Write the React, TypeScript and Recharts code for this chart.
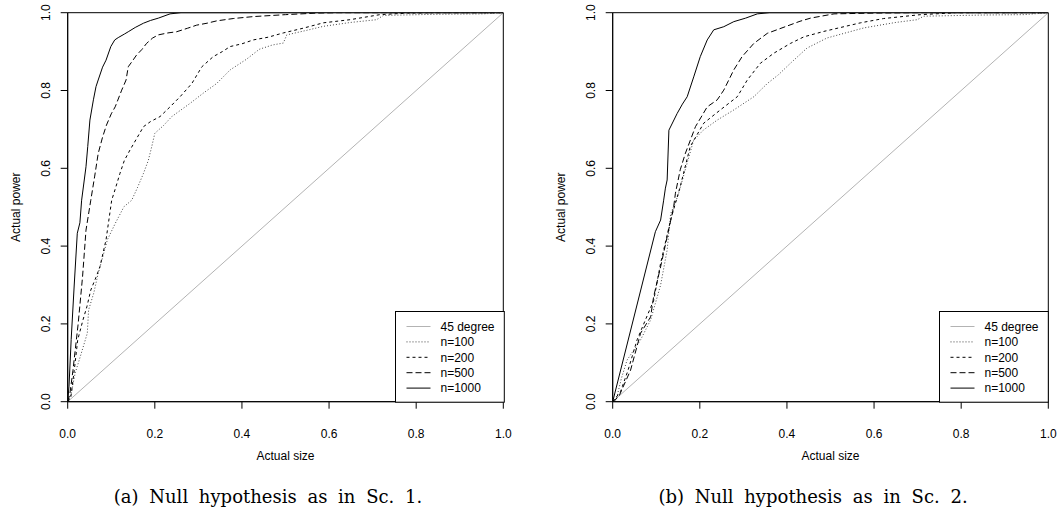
import { LineChart, Line, XAxis, YAxis, ReferenceArea } from 'recharts';

// [actual size, actual power] pairs
const DIAG = [[0, 0], [1, 1]];

const SC1_N100 = [
  [0, 0], [0.008, 0.02], [0.017, 0.073], [0.03, 0.12], [0.045, 0.176], [0.048, 0.236], [0.06, 0.28],
  [0.07, 0.33], [0.08, 0.37], [0.091, 0.416], [0.109, 0.458], [0.129, 0.501], [0.147, 0.518], [0.16, 0.55],
  [0.174, 0.587], [0.185, 0.62], [0.193, 0.656], [0.2, 0.69], [0.22, 0.71], [0.239, 0.733], [0.26, 0.75],
  [0.281, 0.767], [0.311, 0.793], [0.342, 0.818], [0.373, 0.853], [0.41, 0.88], [0.44, 0.906], [0.47, 0.917],
  [0.495, 0.922], [0.503, 0.943], [0.55, 0.955], [0.587, 0.965], [0.65, 0.975], [0.709, 0.982], [0.725, 0.993],
  [0.85, 0.996], [0.954, 0.997], [1, 1],
];
const SC1_N200 = [
  [0, 0], [0.007, 0.01], [0.015, 0.08], [0.023, 0.159], [0.035, 0.21], [0.044, 0.244], [0.053, 0.287],
  [0.065, 0.32], [0.074, 0.347], [0.088, 0.416], [0.101, 0.518], [0.11, 0.55], [0.12, 0.587], [0.13, 0.62],
  [0.143, 0.647], [0.16, 0.68], [0.174, 0.707], [0.19, 0.72], [0.212, 0.733], [0.235, 0.758], [0.258, 0.784],
  [0.285, 0.818], [0.308, 0.861], [0.334, 0.887], [0.355, 0.9], [0.373, 0.913], [0.4, 0.92], [0.426, 0.93],
  [0.46, 0.937], [0.495, 0.948], [0.54, 0.96], [0.587, 0.974], [0.648, 0.982], [0.717, 0.995], [0.78, 0.999],
  [0.85, 1], [1, 1],
];
const SC1_N500 = [
  [0, 0], [0.005, 0.02], [0.012, 0.08], [0.024, 0.2], [0.034, 0.32], [0.042, 0.441], [0.053, 0.518],
  [0.062, 0.58], [0.07, 0.638], [0.08, 0.68], [0.089, 0.711], [0.1, 0.74], [0.109, 0.758], [0.124, 0.801],
  [0.134, 0.827], [0.139, 0.861], [0.148, 0.875], [0.158, 0.891], [0.17, 0.905], [0.181, 0.921], [0.195, 0.935],
  [0.208, 0.943], [0.23, 0.948], [0.25, 0.951], [0.275, 0.96], [0.296, 0.968], [0.32, 0.973], [0.342, 0.979],
  [0.38, 0.985], [0.426, 0.99], [0.5, 0.995], [0.572, 0.999], [0.62, 1], [1, 1],
];
const SC1_N1000 = [
  [0, 0], [0.003, 0.04], [0.008, 0.16], [0.015, 0.3], [0.022, 0.433], [0.028, 0.46], [0.032, 0.518],
  [0.042, 0.604], [0.046, 0.656], [0.051, 0.724], [0.059, 0.776], [0.065, 0.81], [0.07, 0.827], [0.08, 0.86],
  [0.088, 0.878], [0.099, 0.913], [0.108, 0.93], [0.116, 0.936], [0.13, 0.945], [0.139, 0.951], [0.155, 0.962],
  [0.174, 0.973], [0.19, 0.98], [0.208, 0.986], [0.235, 0.997], [0.26, 1], [1, 1],
];

const SC2_N100 = [
  [0, 0], [0.008, 0.005], [0.02, 0.06], [0.033, 0.107], [0.064, 0.159], [0.087, 0.21], [0.11, 0.3],
  [0.125, 0.39], [0.133, 0.483], [0.15, 0.53], [0.17, 0.61], [0.186, 0.673], [0.209, 0.699], [0.24, 0.724],
  [0.278, 0.75], [0.324, 0.784], [0.355, 0.818], [0.38, 0.84], [0.408, 0.87], [0.446, 0.909], [0.492, 0.935],
  [0.577, 0.961], [0.65, 0.975], [0.699, 0.982], [0.714, 0.991], [0.85, 0.994], [0.944, 0.995], [1, 1],
];
const SC2_N200 = [
  [0, 0], [0.018, 0.026], [0.035, 0.08], [0.056, 0.159], [0.075, 0.21], [0.094, 0.26], [0.11, 0.356],
  [0.133, 0.467], [0.155, 0.553], [0.178, 0.656], [0.209, 0.716], [0.247, 0.75], [0.286, 0.784], [0.309, 0.827],
  [0.339, 0.87], [0.37, 0.896], [0.408, 0.921], [0.439, 0.938], [0.485, 0.952], [0.569, 0.974], [0.622, 0.985],
  [0.707, 0.995], [0.79, 1], [1, 1],
];
const SC2_N500 = [
  [0, 0], [0.014, 0.013], [0.041, 0.081], [0.064, 0.176], [0.087, 0.218], [0.094, 0.27], [0.11, 0.347],
  [0.125, 0.424], [0.14, 0.501], [0.144, 0.536], [0.155, 0.596], [0.167, 0.639], [0.19, 0.707], [0.217, 0.758],
  [0.24, 0.776], [0.255, 0.801], [0.278, 0.853], [0.297, 0.887], [0.324, 0.921], [0.355, 0.947], [0.401, 0.966],
  [0.43, 0.978], [0.454, 0.986], [0.508, 0.997], [0.6, 0.999], [0.7, 1], [1, 1],
];
const SC2_N1000 = [
  [0, 0], [0.098, 0.437], [0.11, 0.467], [0.117, 0.518], [0.121, 0.549], [0.125, 0.57], [0.129, 0.698],
  [0.148, 0.741], [0.16, 0.765], [0.171, 0.784], [0.186, 0.835], [0.201, 0.887], [0.217, 0.93], [0.232, 0.956],
  [0.255, 0.964], [0.278, 0.977], [0.305, 0.986], [0.332, 0.997], [0.36, 1], [1, 1],
];

const TICKS = [0, 0.2, 0.4, 0.6, 0.8, 1];
const LEGEND_LABELS = ['45 degree', 'n=100', 'n=200', 'n=500', 'n=1000'];

const STYLES = [
  { stroke: '#b3b3b3', dash: undefined },
  { stroke: '#444', dash: '1 2' },
  { stroke: '#000', dash: '3 3' },
  { stroke: '#000', dash: '6 3' },
  { stroke: '#000', dash: undefined },
];

const W = 530;
const H = 440;
const PL = 67.7, PR = 503.3, PT = 12.7, PB = 401.7;
const FONT = '"Liberation Sans", Arial, sans-serif';
const SERIF = '"DejaVu Serif", "Liberation Serif", serif';

const toPts = (arr: number[][]) => arr.map(([x, y]) => ({ x, y }));

function XTick({ x, payload }: any) {
  return (
    <text x={x} y={437.5} textAnchor="middle" fontSize={12} fontFamily={FONT} fill="#000">
      {Number(payload.value).toFixed(1)}
    </text>
  );
}

function YTick({ y, payload }: any) {
  const tx = 50;
  return (
    <text x={tx} y={y} transform={`rotate(-90, ${tx}, ${y})`} textAnchor="middle" fontSize={12} fontFamily={FONT} fill="#000">
      {Number(payload.value).toFixed(1)}
    </text>
  );
}

function LegendBox() {
  return (
    <svg width={110} height={92} style={{ position: 'absolute', left: 394.5, top: 310.5 }}>
      <rect x={0.5} y={0.5} width={108.8} height={90.7} fill="#fff" stroke="#000" />
      {LEGEND_LABELS.map((lab, i) => {
        const yy = 15.5 + i * 15.4;
        return (
          <g key={lab}>
            <line x1={11.5} x2={35.5} y1={yy} y2={yy} stroke={STYLES[i].stroke} strokeDasharray={STYLES[i].dash} />
            <text x={45.5} y={yy + 4.3} fontSize={12} fontFamily={FONT} fill="#000">{lab}</text>
          </g>
        );
      })}
    </svg>
  );
}

function Panel({ left, series, caption }: { left: number; series: number[][][]; caption: string }) {
  return (
    <div style={{ position: 'absolute', left, top: 0, width: W, height: 515 }}>
      <LineChart width={W} height={H} margin={{ top: PT, right: W - PR, bottom: H - PB - 30, left: 0 }}>
        <XAxis type="number" dataKey="x" domain={[0, 1]} ticks={TICKS} allowDataOverflow height={30}
          tickSize={7} tickLine={{ stroke: '#000' }} axisLine={{ stroke: '#000' }} tick={<XTick />} />
        <YAxis type="number" dataKey="y" domain={[0, 1]} ticks={TICKS} allowDataOverflow width={PL}
          tickSize={7} tickLine={{ stroke: '#000' }} axisLine={{ stroke: '#000' }} tick={<YTick />} />
        <ReferenceArea x1={0} x2={1} y1={0} y2={1} fill="none" fillOpacity={0} stroke="#000" strokeWidth={1} ifOverflow="visible" />
        <Line data={toPts(DIAG)} dataKey="y" type="linear" dot={false} stroke={STYLES[0].stroke} strokeWidth={1} isAnimationActive={false} />
        {series.map((s, i) => (
          <Line key={i} data={toPts(s)} dataKey="y" type="linear" dot={false} stroke={STYLES[i + 1].stroke}
            strokeDasharray={STYLES[i + 1].dash} strokeWidth={1} isAnimationActive={false} />
        ))}
      </LineChart>
      <LegendBox />
      <svg width={W} height={515} style={{ position: 'absolute', left: 0, top: 0, pointerEvents: 'none' }}>
        <text x={20.5} y={(PT + PB) / 2} transform={`rotate(-90, 20.5, ${(PT + PB) / 2})`} textAnchor="middle"
          fontSize={12} fontFamily={FONT} fill="#000">Actual power</text>
        <text x={(PL + PR) / 2} y={460} textAnchor="middle" fontSize={12} fontFamily={FONT} fill="#000">Actual size</text>
        <text x={268} y={503.3} textAnchor="middle" fontSize={18} fontFamily={SERIF} wordSpacing={5} fill="#000">{caption}</text>
      </svg>
    </div>
  );
}

export default function App() {
  return (
    <div style={{ position: 'fixed', left: 0, top: 0, width: 1057, height: 515, background: '#fff' }}>
      <Panel left={0} series={[SC1_N100, SC1_N200, SC1_N500, SC1_N1000]} caption="(a) Null hypothesis as in Sc. 1." />
      <Panel left={544.6} series={[SC2_N100, SC2_N200, SC2_N500, SC2_N1000]} caption="(b) Null hypothesis as in Sc. 2." />
    </div>
  );
}
